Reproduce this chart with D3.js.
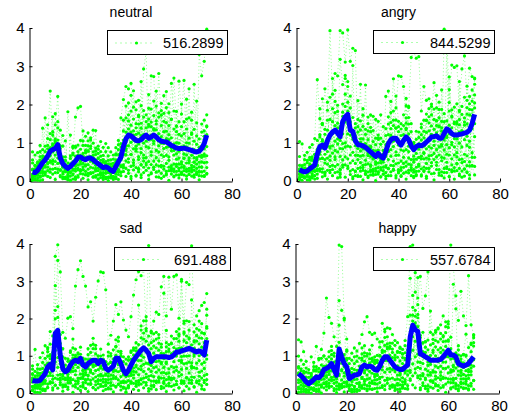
<!DOCTYPE html>
<html><head><meta charset="utf-8">
<script src="https://cdn.jsdelivr.net/npm/d3@7"></script>
<style>
body{margin:0;background:#fff}
svg{display:block}
text{font-family:"Liberation Sans",Arial,Helvetica,sans-serif}
</style>
</head><body>
<svg id="c" width="515" height="416"></svg>
<script>
// ---------------- data ----------------
const xValues = d3.range(1, 71);            // sample index 1..70
const titles = ["neutral", "angry", "sad", "happy"];
const legendLabels = ["516.2899", "844.5299", "691.488", "557.6784"];
const xTickValues = [0, 20, 40, 60, 80];
const yTickValues = [0, 1, 2, 3, 4];

// smoothed mean (blue lines)
const neutralMean = [.24,.22,.28,.38,.48,.55,.65,.78,.82,.85,.95,.6,.45,.38,.33,.38,.45,.52,.62,.63,.58,.56,.6,.6,.56,.5,.45,.4,.35,.37,.34,.28,.25,.38,.5,.62,.9,1.1,1.2,1.18,1.12,1.06,1.05,1.08,1.15,1.2,1.12,1.15,1.2,1.15,1.08,1.04,1.03,1.02,.98,.93,.9,.86,.85,.85,.86,.84,.82,.8,.77,.76,.78,.85,.98,1.2];
const angryMean = [.3,.26,.24,.26,.32,.36,.42,.7,.9,.94,.86,1.05,1.2,1.28,1.33,1.25,1.16,1.55,1.68,1.74,1.33,1.3,1.05,.95,.94,.92,.88,.82,.76,.7,.64,.72,.64,.6,.77,.98,1.08,1.12,1.12,1.02,.94,1.06,1.15,1.08,.92,.82,.9,.94,.92,.96,1.02,1.08,1.15,1.16,1.18,1.12,1.12,1.24,1.36,1.32,1.24,1.2,1.2,1.22,1.23,1.25,1.27,1.33,1.5,1.74];
const sadMean = [.34,.32,.32,.34,.43,.52,.7,.77,.62,1.6,1.68,1.0,.65,.57,.61,.75,.84,.88,.84,.93,.75,.7,.79,.84,.88,.88,.79,.88,.84,.66,.61,.66,.72,.93,.93,.79,.61,.52,.61,.75,.88,.97,1.06,1.15,1.21,1.15,1.06,.84,.93,.97,.97,.97,.97,.97,.95,.97,1.02,1.1,1.1,1.13,1.15,1.17,1.2,1.17,1.13,1.1,1.13,1.1,1.02,1.42];
const happyMean = [.52,.46,.39,.3,.25,.3,.36,.43,.41,.48,.63,.66,.7,.79,.63,.48,1.18,.97,.79,.7,.39,.43,.48,.49,.52,.7,.75,.7,.72,.7,.63,.61,.72,.88,.97,.97,.88,.79,.7,.66,.63,.63,.7,.75,1.5,1.82,1.7,1.65,1.05,1.02,.97,.93,.88,.88,.88,.88,.9,.97,1.06,1.15,1.02,1.02,.97,.79,.75,.72,.75,.79,.88,.97];

// individual samples (green dots): one row per x index, 10 samples each
const neutralPts = [
[.03,.18,.31,.76,.14,.29,.02,.47,.55,.1],[.17,.32,.05,.2,.68,.03,.16,.41,.39,.24],[.21,.46,.19,.74,.02,.37,.5,.15,.23,.38],[.55,.1,.93,.28,.36,.01,.64,.49,.77,.12],[.33,1.38,.21,.66,.14,.59,.82,.47,.25,.4],
[.77,.22,1.65,.4,.18,.63,.36,.91,.59,.24],[1.11,.36,.59,.84,.12,1.47,.6,.45,.93,.48],[2.35,.5,.23,1.08,.66,.31,1.24,.49,.87,.52],[.93,1.68,.31,.76,.54,1.29,.52,.97,.45,1.2],[1.47,.22,.85,1.1,.68,.33,1.76,.51,.99,1.04],
[2.21,.46,1.39,.74,.22,1.07,.6,1.55,.93,.78],[.85,.3,1.33,.28,.56,.91,.14,.69,.47,.92],[.63,.18,.91,.36,.24,1.19,.42,.37,.55,.1],[.27,.52,1.05,.1,.38,.63,.06,.41,.29,.54],[1.81,.16,.39,.04,.22,.47,.1,.25,.03,.28],
[.45,1.2,.13,.38,.66,.01,.24,.59,.37,.22],[.73,.28,.91,.16,.44,.69,.32,.87,.05,.5],[1.67,.32,.65,.1,.88,.43,.26,.91,.39,.04],[1.91,.56,.29,.94,.42,.77,.1,.65,.33,.68],[1.95,.3,.83,.28,1.06,.51,.44,.19,.67,.52],
[.93,.18,1.31,.46,.64,.29,.72,.37,1.05,.3],[1.17,.42,.25,.8,.58,.93,.16,.61,.39,.74],[.31,1.26,.79,.14,.92,.57,.2,1.05,.43,.78],[.85,.2,1.13,.58,.36,.91,.64,.19,1.07,.52],[1.33,.48,.11,.76,.34,.99,.22,.67,.55,.6],
[.27,1.32,.55,.1,.78,.33,.86,.41,.69,.14],[.91,.16,.59,.34,.72,.27,.6,.05,.83,.48],[.65,.2,1.03,.18,.46,.31,.54,.09,.77,.22],[.13,.88,.31,.56,.04,.49,.22,.67,.15,.5],[.77,.22,.45,.1,.98,.33,.06,.51,.29,.44],
[.31,.66,.09,.54,.22,.87,.1,.45,.23,.38],[.55,.1,.33,.08,.76,.21,.44,.19,.37,.22],[.23,.68,.11,.46,.04,.39,.12,.57,.25,.1],[.87,.22,.55,.1,.68,.33,.06,.71,.49,.24],[.31,1.06,.69,.24,.82,.17,.5,.95,.43,.28],
[1.65,.4,.23,.98,.56,.71,.14,.89,.37,.72],[2.13,.68,1.31,.36,.94,1.59,.42,1.07,.25,.7],[2.47,.52,1.65,.8,1.28,.33,1.96,.91,.69,.84],[2.41,1.36,.49,2.04,.92,1.57,.2,1.15,1.73,.58],[2.55,.7,1.83,.38,1.46,1.01,2.24,.69,1.27,.12],
[1.93,.48,1.31,2.36,.84,.29,1.62,1.07,.55,1.2],[2.07,1.22,.35,1.5,.78,.13,1.86,.91,1.39,.84],[2.11,.56,1.49,.24,1.72,.97,.3,1.25,.63,1.68],[.85,2.6,.43,1.38,.16,1.51,.74,1.19,1.97,.42],[2.93,.68,1.21,.36,1.84,.99,.52,1.67,1.15,.6],
[3.37,.42,1.55,.9,.28,1.73,1.16,.61,1.39,1.04],[.51,2.26,1.09,.34,1.62,.87,1.9,.15,1.43,1.48],[2.75,1.2,.43,1.88,.76,.21,1.54,1.09,.67,1.42],[2.73,.98,1.71,.36,1.34,2.09,.52,1.37,1.05,.3],[1.57,.42,2.35,.8,1.18,.23,1.96,.61,1.49,1.34],
[2.81,.76,.39,1.24,.92,1.67,.1,1.05,.53,1.78],[1.45,.2,2.03,.68,1.16,.41,1.84,.99,.37,1.72],[2.23,.98,.31,1.56,.64,1.29,.12,1.77,.85,1],[.67,1.92,.25,1.3,.88,1.53,.46,1.11,.19,2.34],[1.21,.36,1.79,.54,2.02,.27,.9,1.45,.63,1.08],
[2.55,.4,1.13,.18,.86,1.61,.34,.79,.27,1.62],[1.83,.68,.11,1.36,.44,2.69,.32,.97,.25,.8],[.57,1.82,.25,1,.38,1.43,.16,.71,1.29,1.44],[2.61,.16,.99,.44,1.22,.27,.6,1.55,.33,.78],[1.75,.5,.23,1.18,.36,2.01,.44,.89,.17,1.42],
[2.63,.38,.71,.16,1.24,.59,.92,.27,1.55,.6],[.47,1.62,.25,1,.68,.13,1.36,.31,.89,2.14],[2.41,.26,.99,.54,1.12,.17,.6,1.65,.33,.48],[.35,1.8,.13,.78,1.26,.41,.24,1.59,.67,1.22],[2.53,.28,.61,.16,1.04,.49,.82,.37,1.35,.5],
[.17,1.52,.55,.2,1.18,.33,.96,.61,2.09,.44],[3.31,.26,.49,.14,.82,.37,1.1,.65,.23,.88],[2.75,.5,.13,1.28,.36,.91,.24,1.49,.67,.62],[3.13,.48,1.31,.26,.84,1.59,.12,1.17,.65,.7],[3.97,1.42,.35,.9,.18,1.73,.66,1.21,.49,1.44]
];
const angryPts = [
[1.03,.18,.41,.06,.64,.29,.32,.17,.25,.1],[.97,.02,.25,.4,.18,.33,.26,.11,.39,.14],[.11,.56,.09,.34,.22,.67,.1,.25,.43,.08],[.75,.2,.03,.48,.16,.31,.54,.19,.27,.12],[.23,.88,.11,.56,.04,.39,.62,.27,.45,.1],
[.57,.12,.95,.3,.08,.63,.26,.41,.19,.54],[1.11,.36,.69,.14,.42,.27,.7,.05,.53,.38],[2.65,.4,.83,.18,1.06,.31,.54,.79,.27,.42],[1.63,.58,1.21,.26,.94,1.89,.32,.77,1.15,.7],[1.47,.32,2.15,.6,1.08,.23,.86,1.51,.59,1.04],
[2.41,.56,.99,.14,1.22,.47,.7,1.35,.23,.98],[1.85,.6,1.33,.28,2.06,.91,.44,1.59,.77,1.12],[3.93,.38,1.61,.86,.54,2.19,.22,1.17,.65,.9],[2.27,.92,1.55,.3,2.68,.73,1.26,.41,1.89,1.24],[2.81,.56,1.79,1.04,.22,2.37,.8,1.45,.63,2.08],
[2.75,1.1,.43,1.98,.76,1.51,.24,1.39,.97,1.82],[3.93,3.18,.31,1.06,.64,.29,1.42,.17,.85,.1],[3.87,2.52,.55,1.8,.98,1.23,.36,2.01,1.69,.84],[3.11,2.76,.89,1.54,.42,2.27,1,1.95,.63,2.68],[3.95,2.6,1.23,.58,2.06,.91,1.74,.39,2.47,1.82],
[3.13,.68,1.91,.26,1.44,.89,2.22,.47,1.55,1.2],[3.47,3.02,.75,.3,1.28,.53,1.66,.11,1.09,1.14],[3.41,.46,1.39,.14,.92,.67,1.5,.25,1.03,1.18],[.85,2.1,.33,1.28,.56,1.61,.14,.99,.67,1.42],[2.53,.48,1.01,.26,1.34,.79,.12,1.57,.65,1.1],
[.67,1.72,.35,1.1,.28,1.43,.96,.41,1.89,.84],[2.51,.26,.89,.54,1.22,.17,.9,1.35,.43,.98],[.45,1.5,.13,1.08,.66,1.31,.24,.89,1.67,.72],[1.73,.38,.91,.16,.64,1.29,.42,.87,.25,1.4],[.57,1.32,.25,.8,.18,1.03,.66,.31,1.69,.64],
[1.61,.26,.79,.44,1.12,.17,.5,.95,.33,.68],[.35,1.2,.63,.18,1.56,.81,.24,1.09,.47,1.12],[1.73,.48,.11,.96,.54,.29,1.12,.67,.35,.6],[.27,1.42,.55,.8,.18,1.03,.36,.71,.49,.64],[2.21,.36,1.19,.64,.22,1.37,.4,.95,.13,.68],
[2.35,.8,.33,1.68,.56,1.21,.14,1.49,.77,.92],[1.53,2.08,.41,1.16,.24,1.79,.82,1.37,.65,1.2],[2.67,.52,1.45,.9,.28,1.83,1.06,.31,1.59,1.04],[1.91,.76,1.39,.14,2.22,.67,1.6,.45,1.13,1.38],[2.75,.3,1.03,.68,1.56,.21,.94,1.29,.47,1.42],
[2.73,.28,.81,1.36,.14,1.19,.52,.97,.35,1.5],[2.47,.62,1.45,.2,1.08,1.73,.46,1.21,.79,1.04],[1.51,2.16,.39,1.34,.82,1.97,.5,1.65,.23,1.38],[1.95,.6,1.23,.28,1.66,.91,.44,1.49,.77,1.92],[3.23,.28,.91,.56,.14,1.29,.42,.87,.35,1.5],
[3.37,.12,.65,.3,.98,.23,.56,1.01,.49,.84],[3.21,.36,1.09,.14,.72,.57,1.3,.25,.93,.88],[3.25,.4,.83,1.28,.26,.61,1.14,.39,.97,.62],[1.83,.58,1.21,.16,.94,1.49,.32,1.07,.65,1.4],[2.47,.72,.25,1.3,.58,1.13,.36,.91,1.59,.74],
[2.11,.46,1.59,.84,.12,1.27,.6,1.75,.33,1.58],[2.15,.9,.33,1.68,.66,1.31,.24,1.89,.57,1.52],[1.73,.48,2.01,.86,1.44,.39,1.22,.67,1.95,1.2],[2.57,.72,1.35,.2,1.88,.93,.56,1.61,1.19,1.04],[1.91,1.26,.49,2.24,.82,1.57,.3,1.45,.63,1.58],
[1.65,.3,1.13,.68,2.06,.21,1.44,.89,1.87,1.42],[.53,2.38,.91,1.56,.14,1.39,.62,1.87,.95,1.3],[3.97,.22,1.55,.6,1.08,.33,1.76,.81,1.29,1.14],[3.91,3.46,.49,1.14,.22,1.57,.7,.95,.33,1.18],[2.05,.3,1.83,.68,1.46,.11,1.24,2.39,.87,2.72],
[3.03,.58,1.01,1.86,.24,1.39,.42,1.67,.95,1.7],[2.97,1.22,.35,1.5,.68,1.93,.26,1.11,.89,1.54],[3.01,.46,1.49,.74,2.02,.27,1.1,1.55,.63,1.18],[1.85,2.6,.33,1.28,.56,1.61,.14,.99,1.47,1.82],[2.93,.48,1.21,.26,1.74,.89,1.32,.57,1.95,1.3],
[3.27,.32,1.65,.7,1.08,.13,1.46,.51,2.19,1.54],[2.11,.66,1.49,.24,1.92,1.17,.4,1.75,.93,2.48],[2.95,.5,1.73,.88,.16,2.21,1.04,.39,1.87,2.02],[2.73,2.38,.41,1.86,.74,2.09,.62,1.37,1.55,1.7],[2.67,.62,2.25,1.5,.38,2.53,1.16,1.91,2.69,2.04]
];
const sadPts = [
[.73,.18,.41,.06,.64,.29,.52,.17,.35,.5],[1.17,.02,.35,.2,.58,.13,.46,.21,.39,.14],[.21,.76,.19,.54,.02,.47,.3,.65,.13,.38],[.95,.2,.53,.18,.36,.01,.64,.29,.47,.22],[.33,1.08,.11,.66,.44,.29,.82,.07,.55,.4],
[1.27,.32,.75,.1,.58,.93,.26,.61,.49,.34],[1.11,.46,.99,.24,1.22,.57,.8,.15,.73,1.18],[1.65,.3,1.03,.68,.26,1.31,.54,.99,.47,.92],[1.53,.28,.81,.46,.14,1.09,.62,.37,.75,.6],[3.67,2.22,1.15,.4,2.88,.83,1.56,.21,1.99,1.44],
[3.98,3.56,.69,1.24,2.32,.37,1.6,.95,2.03,.48],[3.25,.5,1.33,.28,.96,.41,1.14,.79,1.57,.22],[1.63,.38,.81,.16,.64,1.19,.22,.97,.45,.5],[1.47,.22,.75,.4,.18,.93,.36,.61,.59,.64],[2.01,.16,.69,.34,.92,.27,.5,.85,.43,.38],
[2.05,.4,1.13,.28,.86,.61,.34,1.09,.57,.62],[1.73,.58,1.21,.36,.94,.19,1.02,.67,1.45,.7],[2.87,.32,.95,.6,1.18,.23,.76,1.01,.49,.84],[3.31,.26,.69,1.04,.12,.87,.4,.95,.33,1.08],[3.55,.4,1.23,.18,.86,.51,1.04,.39,.77,.82],
[3.13,.28,.61,.16,.94,.39,.52,.87,.45,.6],[2.87,.12,.55,.8,.28,.63,.36,.91,.49,.34],[2.31,.46,1.19,.24,.72,.37,.9,.65,1.03,.48],[2.45,.6,.23,1.28,.56,.91,.34,1.09,.77,.62],[1.93,.38,1.31,.76,.14,1.19,.52,1.47,.85,.7],
[2.57,.22,1.05,.6,1.28,.43,.86,.31,1.19,.74],[3.01,.36,.79,.14,.92,.47,1,.25,.63,.78],[3.25,.5,.23,1.18,.46,.81,.34,.99,.67,.72],[3.23,.18,.91,.46,.64,.29,1.02,.37,.85,.9],[2.77,.22,.65,.1,.48,.73,.36,.51,.29,.84],
[1.31,.36,.99,.14,.62,.27,1.1,.45,.53,.78],[1.55,.2,.83,.48,1.06,.11,.64,.99,.37,.82],[1.93,.58,.21,1.16,.64,.39,.92,.47,.75,.6],[2.37,.42,1.25,.6,.18,1.43,.86,1.01,.39,1.24],[2.11,.76,1.39,.24,1.12,.57,1.5,.35,.93,.78],
[2.45,.3,.83,.18,1.06,.61,.44,.99,.27,1.12],[1.96,.28,.61,.16,.84,.49,.32,.97,.55,.3],[1.69,.12,.55,.3,.78,.03,.46,.91,.29,.44],[1.51,.46,.89,.14,.62,.97,.2,.55,.33,.88],[2.05,.3,1.13,.58,.26,.91,.64,1.09,.47,.52],
[2.63,.58,1.21,.26,.84,.49,1.02,.67,1.15,.4],[3.04,.32,1.35,.7,.18,1.13,.56,1.21,.89,.74],[3.26,2.36,.49,1.14,.22,.87,1.3,.65,.33,.28],[3.15,1.8,.63,1.48,.36,1.01,.24,1.69,.87,.72],[3.33,.58,1.61,.96,1.94,.29,1.22,.77,1.45,.4],
[1.67,.42,2.05,.8,.28,1.73,1.16,.51,1.39,1.94],[3.96,.36,1.29,.64,.12,1.07,.8,.45,1.53,.78],[1.35,.2,.93,.58,1.66,.11,.74,1.19,.47,1.62],[1.93,.68,.21,1.26,.44,1.59,.32,1.07,.85,1.4],[2.17,.32,1.45,.7,.28,1.63,.56,1.21,.99,.84],
[2.11,.86,.29,1.34,.62,1.57,.4,1.15,.33,1.48],[2.85,.4,1.23,.18,.96,1.31,.54,.79,1.07,.82],[3.13,2.68,.31,1.06,.14,.69,.92,.27,.55,.4],[2.07,.52,1.35,.2,1.68,.83,.36,1.11,.79,1.24],[3.11,.26,.99,.54,1.12,.37,1.3,.65,.43,1.18],
[2.25,.4,1.53,.18,1.06,.71,1.34,.39,.97,1.32],[3.13,.68,.21,1.46,.84,.39,1.22,.57,1.05,1.1],[3.17,.32,1.65,.7,1.18,.23,1.46,.61,.99,1.04],[2.01,.56,1.39,.14,1.72,.87,1.2,.45,1.53,1.58],[3.05,3,.33,.98,.26,1.21,.64,.49,.87,.82],
[1.93,.78,1.41,.26,1.64,.99,.32,1.87,1.15,1.6],[2.97,.42,1.35,.8,.18,1.53,.66,1.21,.99,1.94],[2.91,.36,1.69,.54,1.92,.27,1,1.45,.83,1.48],[3.95,2.5,.43,1.18,.26,.81,.34,1.29,.67,.72],[1.83,.68,1.41,.16,1.64,.99,.42,1.37,1.05,1.2],
[2.07,.32,1.55,.8,.28,1.73,.66,1.11,1.39,1.54],[2.21,.56,1.69,.24,1.32,.87,1,.45,1.93,1.48],[2.35,.4,1.23,.78,1.86,.11,1.04,.59,1.47,1.62],[2.43,.28,1.11,.66,.34,1.59,.82,.47,1.35,1.6],[2.67,1.02,2.25,.5,1.78,.23,1.46,.91,2.09,1.74]
];
const happyPts = [
[1.43,.28,.71,.16,.54,.99,.02,.67,.35,.5],[1.37,.12,.65,.3,.88,.03,.46,.21,.59,.34],[1.11,.26,.59,.04,.42,.77,.1,.35,.53,.18],[.85,.1,.43,.08,.56,.21,.34,.19,.67,.02],[.63,.08,.31,.16,.54,.29,.42,.07,.25,.2],
[.97,.12,.45,0,.38,.53,.26,.11,.49,.14],[.71,.26,.59,.14,.82,.07,.4,.35,.63,.08],[1.25,.1,.63,.38,.26,.71,.04,.59,.47,.32],[.93,.38,.11,.66,.44,.89,.22,.57,.05,.3],[1.17,.22,.75,0,.58,.93,.36,.61,.19,.44],
[1.61,.46,.99,.14,.72,.37,1,.25,.53,.68],[2.55,.3,.73,.18,.56,.91,.24,.69,.47,.42],[2.03,.58,1.11,.26,.84,.19,.62,.97,.35,.5],[1.87,.42,1.25,.6,.18,1.03,.36,.91,.59,1.14],[1.51,.26,.99,.44,.12,1.07,.6,.35,.83,.58],
[1.25,.1,.63,.38,.86,.01,.54,.29,.77,.42],[3.97,2.48,.51,1.36,.24,.99,1.82,.47,.15,.2],[3.93,2.22,.35,.8,.18,.63,1.06,.21,.59,.14],[2.01,1.96,.29,.54,.92,.17,.7,.45,1.03,.28],[1.45,.3,.93,.18,1.16,.51,.24,.89,.67,1.12],
[.93,.18,.61,.06,.44,.79,.22,.57,.35,.2],[1.07,.22,.55,.1,.88,.03,.66,.31,.49,.44],[1.21,.36,.79,.04,.52,.97,.1,.45,.63,.18],[.85,.1,1.13,.48,.26,.61,.04,.99,.37,.52],[1.33,.28,.61,.16,.94,.49,.72,.07,.55,.5],
[1.57,.42,1.05,.2,.88,.13,.66,1.21,.39,.94],[1.91,.36,.99,.54,.12,1.27,.6,.85,.23,1.08],[2.05,.2,.73,.48,1.06,.11,.64,.99,.37,.72],[1.63,.58,.11,1.16,.74,.39,.92,.27,1.05,.8],[1.57,.32,.85,.1,1.28,.53,.26,.91,.69,.94],
[1.61,.26,.79,.44,.12,.97,.5,.35,.83,.88],[1.45,.5,.13,.88,.36,1.01,.24,.69,.47,.82],[1.23,.38,1.01,.66,.14,.99,.42,1.37,.75,.7],[1.87,.62,1.15,.2,1.38,.43,.96,.71,1.09,.84],[1.71,.56,1.49,.34,1.12,.87,.2,1.65,.93,1.28],
[1.75,.4,1.23,.98,.26,1.51,.64,1.19,.87,1.32],[1.73,.38,1.01,.66,1.34,.19,.92,.57,1.25,1.2],[1.57,.22,.95,.4,1.18,.63,.16,.81,1.09,1.34],[1.41,.36,.89,.14,1.02,.57,.2,.95,.63,1.28],[1.35,.1,.73,.48,.96,.21,.64,1.09,.37,1.12],
[1.23,.48,.11,.86,.54,1.09,.22,.67,.35,1.2],[1.17,.22,.95,.3,.68,.13,1.06,.41,.79,1.04],[1.41,.36,.89,.54,.12,1.27,.6,.25,.93,1.08],[2.05,.2,.93,.48,1.16,.11,.74,.59,.87,.82],[3.93,3.08,.61,1.46,.34,2.09,.92,1.27,.55,1.1],
[3.97,2.62,1.15,2.3,.78,1.93,.46,1.51,2.09,1.74],[2.71,2.06,1.39,.54,2.22,.97,1.8,.65,3.23,1.88],[2.55,3.1,.83,1.78,.46,2.11,1.04,.69,2.37,2.02],[3.13,.38,1.21,.66,.14,1.49,.82,.47,1.55,1.1],[2.27,.52,1.35,.2,.98,1.63,.46,1.11,.79,1.34],
[2.61,.36,1.09,.64,.12,1.37,.4,.95,1.23,1.38],[3.25,.2,.83,.48,1.16,.11,.74,.59,.97,1.42],[1.63,.48,1.01,.16,.84,1.29,.32,.77,.55,2.2],[1.57,.32,1.15,.6,.28,1.33,.56,.91,1.09,1.44],[1.41,.56,.19,1.24,.72,.37,1,.45,1.63,1.68],
[1.75,.2,.93,.68,1.16,.41,.84,.19,1.37,1.72],[1.83,.38,1.21,.56,.14,1.09,.72,.47,1.45,1.6],[2.07,.42,1.15,.2,1.38,.83,.66,1.51,.39,1.54],[1.91,.66,1.39,.24,1.62,.97,.4,1.25,.83,1.78],[1.85,.7,1.43,.38,1.76,1.01,.54,1.39,.97,1.92],
[3.97,.28,.91,.56,.14,1.19,.62,.37,1.05,1.5],[3.37,2.92,.35,.7,.28,.93,.16,.61,.59,.74],[2.61,2.26,.39,.84,.12,.67,.9,.25,1.03,1.08],[1.95,.2,.73,.48,1.16,.11,.84,.59,1.27,1.02],[2.73,.38,.61,.16,.84,.29,.92,.47,.55,1],
[2.07,.12,.75,.5,.38,1.03,.26,.81,.69,1.04],[1.81,.46,.99,.24,1.02,.37,.6,.75,.13,1.58],[3.15,.2,.63,.48,.86,.11,.74,.39,.57,1.22],[1.83,.58,1.11,.26,1.34,.49,.92,.67,.75,1.3],[1.57,.72,1.35,.1,1.48,.33,1.26,.91,.89,1.54]
];
// extra low-amplitude sample series (dense band near zero)
const neutralLow = [.05,.12,.08,.21,.03,.15,.27,.09,.18,.04,.31,.11,.06,.24,.13,.02,.19,.08,.14,.26,.07,.17,.03,.22,.1,.29,.05,.16,.09,.2,.01,.13,.07,.18,.04,.23,.35,.12,.28,.06,.41,.15,.33,.09,.22,.47,.04,.19,.36,.11,.26,.07,.39,.16,.02,.31,.13,.44,.08,.21,.35,.05,.18,.29,.1,.24,.03,.37,.14,.2];
const angryLow = [.04,.16,.09,.22,.02,.13,.25,.07,.31,.11,.19,.05,.28,.14,.38,.08,.21,.42,.1,.33,.17,.06,.26,.12,.35,.03,.2,.09,.29,.15,.01,.23,.11,.18,.06,.32,.14,.4,.08,.25,.12,.36,.05,.21,.3,.09,.17,.44,.13,.27,.07,.34,.19,.03,.41,.15,.24,.08,.37,.12,.29,.05,.45,.18,.1,.31,.22,.06,.39,.16];
const sadLow = [.09,.03,.17,.11,.24,.06,.14,.29,.08,.21,.13,.35,.05,.19,.1,.27,.02,.16,.31,.07,.22,.12,.04,.26,.15,.09,.33,.18,.06,.2,.11,.28,.03,.16,.23,.08,.13,.01,.19,.3,.1,.25,.07,.38,.14,.21,.05,.32,.17,.09,.42,.12,.26,.04,.19,.35,.08,.23,.14,.3,.06,.4,.11,.27,.17,.02,.33,.2,.09,.36];
const happyLow = [.11,.04,.18,.07,.02,.13,.09,.21,.05,.16,.27,.08,.14,.33,.06,.19,.1,.24,.03,.29,.12,.05,.17,.08,.22,.14,.31,.06,.19,.1,.25,.03,.28,.15,.09,.35,.12,.2,.07,.26,.04,.17,.3,.11,.38,.22,.14,.41,.09,.27,.18,.05,.33,.13,.24,.07,.36,.16,.02,.29,.11,.39,.2,.06,.25,.14,.31,.08,.19,.34];

const meanSeries = [neutralMean, angryMean, sadMean, happyMean];
const pointSets = [neutralPts, angryPts, sadPts, happyPts];
const lowSets = [neutralLow, angryLow, sadLow, happyLow];

// ---------------- layout (pixels) ----------------
const layout = [
  {left: 30,  right: 232, top: 28,  bottom: 181, leg: {x: 107.5, y: 30.5,  w: 120, h: 24}},
  {left: 297, right: 500, top: 28,  bottom: 181, leg: {x: 373.5, y: 30.5,  w: 121, h: 23}},
  {left: 30,  right: 232, top: 244, bottom: 393, leg: {x: 114.5, y: 247.5, w: 116, h: 23}},
  {left: 296, right: 499, top: 244, bottom: 393, leg: {x: 373.5, y: 247.5, w: 121, h: 23}}
];

const GREEN = "#00ff00", BLUE = "#0000ff";
const FONT = '"Liberation Sans", Arial, Helvetica, sans-serif';
const svg = d3.select("#c");
svg.append("rect").attr("width", 515).attr("height", 416).attr("fill", "#fff");

titles.forEach((title, i) => {
  const L = layout[i];
  const x = d3.scaleLinear().domain([0, 80]).range([L.left, L.right]);
  const y = d3.scaleLinear().domain([0, 4]).range([L.bottom, L.top]);
  const g = svg.append("g");
  const pts = pointSets[i];
  const nSeries = pts[0].length;
  const series = d3.range(nSeries).map(j => pts.map((row, k) => ({x: xValues[k], v: row[j]})));
  series.push(lowSets[i].map((v, k) => ({x: xValues[k], v})));

  // axes
  const fmt = d3.format("d");
  const xa = d3.axisBottom(x).tickValues(xTickValues).tickFormat(fmt).tickSizeInner(-3).tickSizeOuter(0).tickPadding(7);
  const ya = d3.axisLeft(y).tickValues(yTickValues).tickFormat(fmt).tickSizeInner(-3).tickSizeOuter(0).tickPadding(5);
  const gx = g.append("g").attr("transform", `translate(0,${L.bottom + 0.5})`).call(xa);
  const gy = g.append("g").attr("transform", `translate(${L.left - 0.5},0)`).call(ya);
  [gx, gy].forEach(a => {
    a.attr("font-family", FONT).attr("font-size", 15);
    a.selectAll("path,line").attr("stroke", "#000").attr("stroke-width", 1);
    a.selectAll("text").attr("fill", "#000");
  });

  // dotted sample lines + dot markers
  const line = d3.line().x(d => x(d.x)).y(d => y(d.v));
  g.append("g").selectAll("path").data(series).join("path")
    .attr("d", line).attr("fill", "none").attr("stroke", GREEN)
    .attr("stroke-width", 0.8).attr("stroke-dasharray", "1,2.5").attr("opacity", 0.55);
  g.append("g").selectAll("circle").data(series.flat()).join("circle")
    .attr("cx", d => x(d.x)).attr("cy", d => y(d.v)).attr("r", 1.6).attr("fill", GREEN);

  // mean line
  const mean = meanSeries[i].map((v, k) => ({x: xValues[k], v}));
  g.append("path").attr("d", line(mean)).attr("fill", "none").attr("stroke", BLUE)
    .attr("stroke-width", 5).attr("stroke-linejoin", "round").attr("stroke-linecap", "butt");

  // title
  g.append("text").attr("x", (L.left + L.right) / 2).attr("y", L.top - 11.5)
    .attr("text-anchor", "middle").attr("font-size", 14).attr("font-family", FONT).text(title);

  // legend
  const lg = L.leg;
  const lgG = g.append("g");
  lgG.append("rect").attr("x", lg.x).attr("y", lg.y).attr("width", lg.w).attr("height", lg.h)
    .attr("fill", "#fff").attr("stroke", "#000").attr("stroke-width", 1);
  const cy = lg.y + lg.h / 2 + 0.5;
  lgG.append("line").attr("x1", lg.x + 8).attr("x2", lg.x + 46).attr("y1", cy).attr("y2", cy)
    .attr("stroke", GREEN).attr("stroke-width", 0.8).attr("stroke-dasharray", "1,4").attr("opacity", 0.8);
  lgG.append("circle").attr("cx", lg.x + 29).attr("cy", cy).attr("r", 1.6).attr("fill", GREEN);
  lgG.append("text").attr("x", lg.x + lg.w - 4).attr("y", lg.y + 17).attr("text-anchor", "end")
    .attr("font-size", 14.5).attr("font-family", FONT).text(legendLabels[i]);
});
</script>
</body></html>
